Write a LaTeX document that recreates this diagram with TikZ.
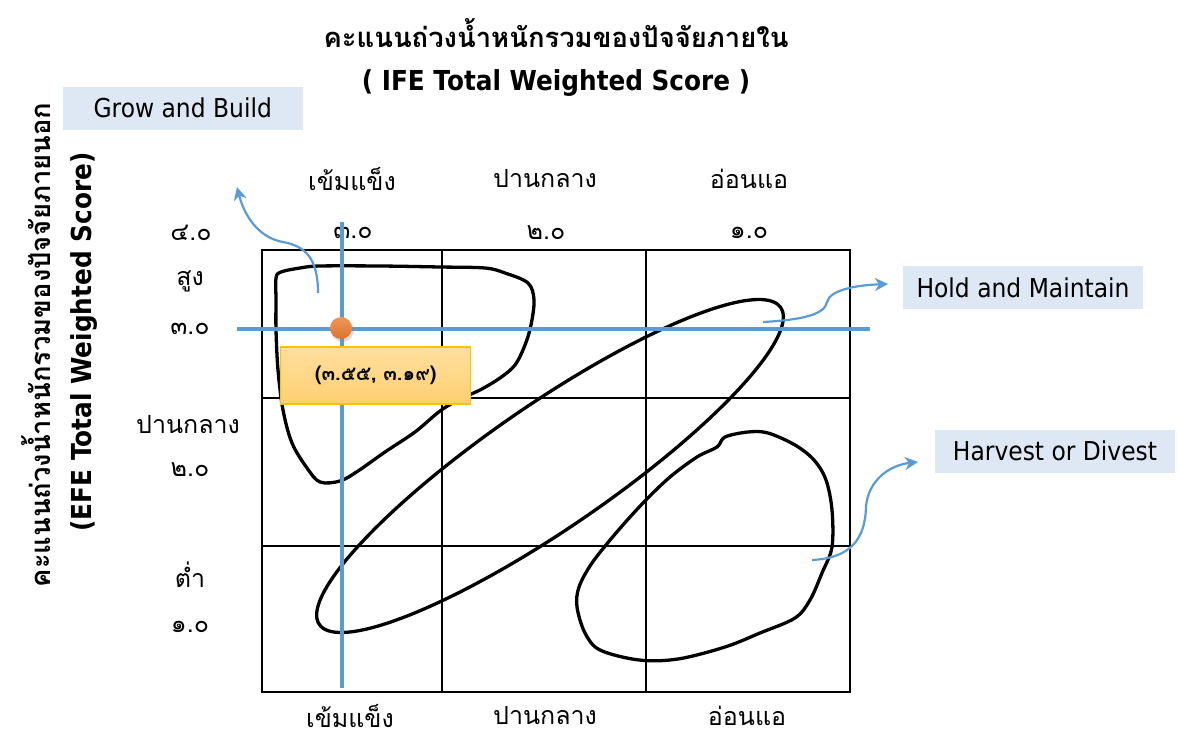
\documentclass[tikz,border=0pt]{standalone}
\usepackage{fontspec}
\setmainfont{DejaVu Sans}[FakeStretch=0.9]
\newfontfamily\thaifont[Script=Thai]{Loma}
\usetikzlibrary{arrows.meta,shadows}
\definecolor{axisblue}{HTML}{5B9BD5}
\definecolor{boxblue}{HTML}{DEE8F4}
\definecolor{dotorange}{HTML}{ED7D31}
\definecolor{goldline}{HTML}{FFC000}
\definecolor{valtop}{HTML}{FFDE9E}
\definecolor{valbot}{HTML}{FFD071}
\tikzset{
  lbl/.style={font=\thaifont\fontsize{25}{29}\selectfont, inner sep=0pt},
  ttl/.style={font=\thaifont\bfseries\fontsize{27.4}{32}\selectfont, inner sep=0pt},
  ettl/.style={font=\bfseries\fontsize{27.5}{32}\selectfont, inner sep=0pt},
  tag/.style={fill=boxblue, font=\fontsize{26}{30}\selectfont, minimum width=240, minimum height=43, inner sep=0pt},
  gridline/.style={line width=2pt, black},
  axisline/.style={line width=4pt, axisblue},
  blob/.style={line width=3.3pt, black, line join=round},
  callout/.style={line width=2.2pt, axisblue, -{Stealth[length=13pt,width=13pt,inset=4pt]}}
}
\begin{document}
\begin{tikzpicture}[x=1pt,y=-1pt]
\useasboundingbox (0,0) rectangle (1180,738);
% titles
\node[ttl] (t1) at (556,33) {คะแนนถ่วงน้ำหนักรวมของปัจจัยภายใน};
\node[ettl] (t2) at (556,83) {( IFE Total Weighted Score )};
\node[ttl, rotate=90] (v1) at (36,345) {คะแนนถ่วงน้ำหนักรวมของปัจจัยภายนอก};
\node[ettl, rotate=90] (v2) at (84,342) {(EFE Total Weighted Score)};
% grid
\draw[gridline] (262,250) rectangle (850,692);
\draw[gridline] (442,250) -- (442,692);
\draw[gridline] (646,250) -- (646,692);
\draw[gridline] (262,398) -- (850,398);
\draw[gridline] (262,546) -- (850,546);
% column labels
\node[lbl] (c1) at (352,179) {เข้มแข็ง};
\node[lbl] (c2) at (545,179) {ปานกลาง};
\node[lbl] (c3) at (749,179) {อ่อนแอ};
\node[lbl] (n4) at (191,233) {๔.๐};
\node[lbl] (n3) at (353,233) {๓.๐};
\node[lbl] (n2) at (546,233) {๒.๐};
\node[lbl] (n1) at (749,233) {๑.๐};
\node[lbl] (b1) at (350,716) {เข้มแข็ง};
\node[lbl] (b2) at (545,716) {ปานกลาง};
\node[lbl] (b3) at (747,716) {อ่อนแอ};
% row labels
\node[lbl] (r1) at (190,281) {สูง};
\node[lbl] (r2) at (190,329) {๓.๐};
\node[lbl] (r3) at (188,425) {ปานกลาง};
\node[lbl] (r4) at (190,470) {๒.๐};
\node[lbl] (r5) at (190,575) {ต่ำ};
\node[lbl] (r6) at (190,627) {๑.๐};
% blobs
\draw[blob] plot[smooth cycle, tension=0.55] coordinates {(276,278) (281,272) (300,268) (320,266) (380,266) (440,267) (485,268) (505,273) (528,283) (534,300) (531,325) (525,345) (515,365) (500,378) (480,390) (460,399) (440,411) (415,432) (385,452) (358,471) (340,481) (320,482) (307,468) (292,443) (283,410) (278,370) (276,330) (276,300)};
\draw[blob] plot[domain=0:360, samples=90, smooth cycle, variable=\t] ({550+280*cos(\t)*0.824+62*sin(\t)*0.566}, {466-280*cos(\t)*0.566+62*sin(\t)*0.824});
\draw[blob] plot[smooth cycle, tension=0.55] coordinates {(725,437) (748,432) (768,433) (795,445) (814,460) (826,480) (832,510) (832,547) (822,573) (810,600) (795,618) (760,633) (725,647) (678,659) (639,660) (600,650) (585,633) (577,607) (579,587) (592,563) (616,533) (643,503) (670,477) (697,457) (717,447)};
% axes lines
\draw[axisline] (237,329) -- (870,329);
\draw[axisline] (342,222) -- (342,688);
% point
\node[circle, minimum size=22, inner sep=0pt, top color=dotorange!80!white, bottom color=dotorange!92!black, circular drop shadow={shadow xshift=1pt, shadow yshift=-2pt, opacity=0.3, shadow scale=1.1}] (pt) at (341,328) {};
\node[draw=goldline, line width=1.2pt, top color=valtop, bottom color=valbot, minimum width=190, minimum height=57, inner sep=0pt, font=\thaifont\bfseries\fontsize{20}{24}\selectfont] (val) at (375.7,375.5) {(๓.๕๕, ๓.๑๙)};
% strategy tags
\node[tag] (grow) at (182.7,108.3) {Grow and Build};
\node[tag] (hold) at (1023,287.5) {Hold and Maintain};
\node[tag] (harv) at (1055,451) {Harvest or Divest};
% callout arrows
\coordinate (gs) at (318,293);
\coordinate (ge) at (237,187);
\coordinate (hs) at (763,322);
\coordinate (he) at (888,284);
\coordinate (vs) at (812,560);
\coordinate (ve) at (918,462);
\draw[callout] (gs) .. controls (318,258) and (305,246) .. (283,242) .. controls (260,238) and (245,218) .. (ge);
\draw[callout] (hs) .. controls (800,320) and (825,315) .. (827,302) .. controls (830,289) and (860,285) .. (he);
\draw[callout] (vs) .. controls (850,558) and (865,540) .. (866,507) .. controls (868,480) and (890,465) .. (ve);
\end{tikzpicture}
\end{document}
